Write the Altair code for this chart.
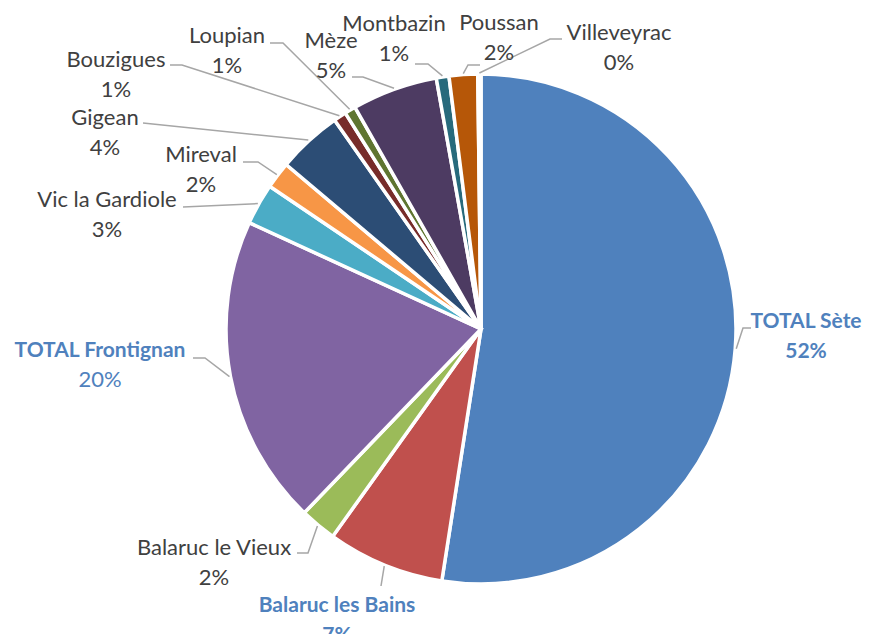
import altair as alt
import pandas as pd
import numpy as np

# ---- data ----
communes = ["TOTAL Sète", "Balaruc les Bains", "Balaruc le Vieux", "TOTAL Frontignan",
            "Vic la Gardiole", "Mireval", "Gigean", "Bouzigues", "Loupian", "Mèze",
            "Montbazin", "Poussan", "Villeveyrac"]
shares = [52.3, 7.4, 2.3, 19.6, 2.6, 1.7, 4.1, 0.8, 0.7, 5.4, 0.8, 1.8, 0.2]
slice_colors = ["#4F81BD", "#C0504D", "#9BBB59", "#8064A2", "#4BACC6", "#F79646",
                "#2C4D75", "#772C2A", "#5F7530", "#4D3B62", "#276A7C", "#B65708", "#729ACA"]
emphasis = ["bold", "bold", "normal", "bold_name", "normal", "normal", "normal",
            "normal", "normal", "normal", "normal", "normal", "normal"]

# ---- layout (page pixels) ----
OFF = 8
W, H = 857, 626
CX, CY, R = 481 - OFF, 329 - OFF, 255
label_x = [806, 337, 214, 100, 107, 201, 105, 116, 227, 331, 394, 499, 619]
label_base = [328, 612, 555, 357, 207, 162, 125, 67, 43, 48, 31, 30, 40]
LINE_GAP = 29.5
elbow = [(743, 328), (381, 586), (308, 553), (205, 358), (183, 207), (258, 162),
         (143, 123), (182, 65), (283, 43), (363, 77), (428, 64), (468, 65), (550, 39)]
leader_end = [(751, 328), (381, 586), (297, 553), (193, 358), (183, 207), (243, 162),
              (143, 123), (170, 65), (270, 43), (352, 77), (415, 64), (480, 65), (562, 39)]

BLUE = "#4F81BD"
GREY = "#404040"
FONT = "Lato"
FS = 22
FS_BOLD = 21

total = sum(shares)
df = pd.DataFrame({"commune": communes, "share": shares, "color": slice_colors,
                   "idx": list(range(len(communes)))})

# label rows
cum = np.cumsum([0] + shares)
rows = []
lead = []
for i, name in enumerate(communes):
    pct = f"{round(shares[i] / total * 100):d}%"
    e = emphasis[i]
    col = BLUE if e != "normal" else GREY
    rows.append({"t": name, "x": label_x[i] - OFF, "y": label_base[i] - OFF, "c": col,
                 "w": "bold" if e in ("bold", "bold_name") else "normal"})
    rows.append({"t": pct, "x": label_x[i] - OFF, "y": label_base[i] - OFF + LINE_GAP, "c": col,
                 "w": "bold" if e == "bold" else "normal"})
    mid = (cum[i] + cum[i + 1]) / 2 / total * 2 * np.pi
    sx = CX + (R + 1) * np.sin(mid)
    sy = CY - (R + 1) * np.cos(mid)
    pts = [(sx, sy), (elbow[i][0] - OFF, elbow[i][1] - OFF), (leader_end[i][0] - OFF, leader_end[i][1] - OFF)]
    for k, (px, py) in enumerate(pts):
        lead.append({"commune": name, "k": k, "x": px, "y": py})
labels = pd.DataFrame(rows)
leads = pd.DataFrame(lead)

xs = alt.Scale(domain=[0, W], range=[0, W], nice=False, zero=False)
ys = alt.Scale(domain=[0, H], range=[0, H], nice=False, zero=False)

pie = alt.Chart(df).mark_arc(radius=R, stroke="white", strokeWidth=3.5).encode(
    theta=alt.Theta("share:Q", stack=True),
    order=alt.Order("idx:Q"),
    color=alt.Color("color:N", scale=None),
    x=alt.value(CX),
    y=alt.value(CY),
)

lines = alt.Chart(leads).mark_line(color="#A6A6A6", strokeWidth=1.5).encode(
    x=alt.X("x:Q", scale=xs, axis=None),
    y=alt.Y("y:Q", scale=ys, axis=None),
    detail="commune:N",
    order="k:Q",
)

txt_norm = alt.Chart(labels).transform_filter(alt.datum.w == "normal").mark_text(
    font=FONT, fontSize=FS, baseline="alphabetic", align="center"
).encode(
    x=alt.X("x:Q", scale=xs, axis=None),
    y=alt.Y("y:Q", scale=ys, axis=None),
    text="t:N",
    color=alt.Color("c:N", scale=None),
)
txt_bold = alt.Chart(labels).transform_filter(alt.datum.w == "bold").mark_text(
    font=FONT, fontSize=FS_BOLD, fontWeight="bold", baseline="alphabetic", align="center"
).encode(
    x=alt.X("x:Q", scale=xs, axis=None),
    y=alt.Y("y:Q", scale=ys, axis=None),
    text="t:N",
    color=alt.Color("c:N", scale=None),
)

chart = alt.layer(pie, lines, txt_norm, txt_bold).properties(
    width=W, height=H, autosize=alt.AutoSizeParams(type="none"), padding=0
).configure_view(stroke=None)

chart.save("out.html", embed_options={"renderer": "svg", "actions": False})
